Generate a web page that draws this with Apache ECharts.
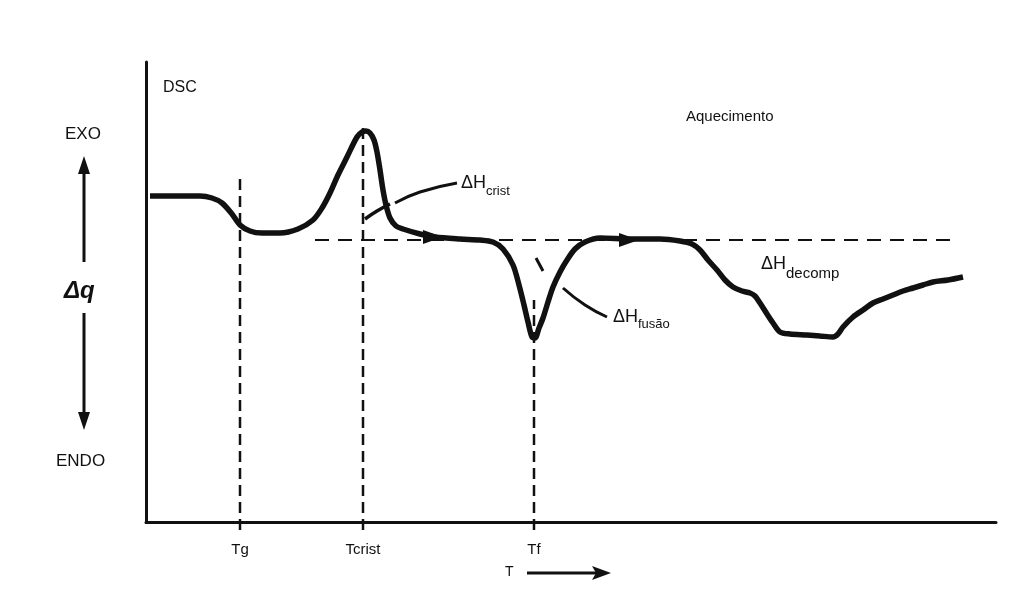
<!DOCTYPE html>
<html>
<head>
<meta charset="utf-8">
<script src="https://cdn.jsdelivr.net/npm/echarts@6/dist/echarts.min.js"></script>
<style>html,body{margin:0;padding:0;background:#fff;}#c{width:1035px;height:612px;}</style>
</head>
<body>
<div id="c"></div>
<script>
// DSC curve (T, heat flow) in arbitrary units
const curveT = [4,29,54,66,76,86,94,104,116,134,152,167,176,184,192,201,211,216,220,224,228,231,234,237,240,244,250,257,274,289,314,334,347,357,367,373,378,382,386,389,393,397,402,407,414,421,429,439,454,484,514,534,546,554,562,571,579,587,596,604,609,614,621,627,634,644,661,674,687,692,697,707,717,727,737,747,757,767,777,787,802,817];
const curveQ = [326,326,326,324,319,308,297,291,289,289,293,302,314,329,347,365,385,390,391,389,382,370,352,332,317,304,296,293,288,285,283,282,280,273,257,237,217,200,185,184,194,204,220,235,250,262,273,280,284,283,283,281,278,272,262,252,242,235,231,229,226,219,208,199,190,188,187,186,185,188,195,205,212,219,223,227,231,234,237,240,242,245];
// baseline (dashed)
const baseT = [169, 804];
const baseQ = [282, 282];
// characteristic temperatures
const tickNames = ['Tg', 'Tcrist', 'Tf'];
const tickValues = [94, 217, 388];
const vlineTop = [344, 394, 222];
const vlineBottom = -8;
// direction arrows on curve
const arrowT = [287, 483];
const arrowQ = [285, 282];
// crystallisation hook and leader lines
const hookT = [219, 231, 244];
const hookQ = [303, 311, 318];
const leadCristT = [249, 274, 311];
const leadCristQ = [319, 330, 339];
const leadFusT = [417, 439, 461];
const leadFusQ = [234, 217, 205];
const markFusT = [390, 397];
const markFusQ = [264, 251];

const zip = (a, b) => a.map((v, i) => [v, b[i]]);
const ink = '#111';
const font = 'Liberation Sans, Arial, sans-serif';
const chart = echarts.init(document.getElementById('c'));

const series = [
  {type:'line', data: zip(curveT, curveQ), smooth: 0.3, symbol:'none', lineStyle:{color:ink, width:5.5}, z:5},
  {type:'line', data: zip(baseT, baseQ), symbol:'none', lineStyle:{color:ink, width:2, type:[14,9]}, z:3},
  {type:'line', data: zip(hookT, hookQ), smooth:true, symbol:'none', lineStyle:{color:ink, width:3.5}, z:4},
  {type:'line', data: zip(leadCristT, leadCristQ), smooth:true, symbol:'none', lineStyle:{color:ink, width:3}, z:4},
  {type:'line', data: zip(leadFusT, leadFusQ), smooth:true, symbol:'none', lineStyle:{color:ink, width:3}, z:4},
  {type:'line', data: zip(markFusT, markFusQ), symbol:'none', lineStyle:{color:ink, width:3}, z:4},
  {type:'scatter', data: zip(arrowT, arrowQ), symbol:'triangle', symbolSize:[14,20], symbolRotate:-90, itemStyle:{color:ink, opacity:1}, z:8}
];
tickValues.forEach((t, i) => {
  series.push({type:'line', clip:false, data:[[t, vlineBottom],[t, vlineTop[i]]], symbol:'none', lineStyle:{color:ink, width:2.5, type:[11,6]}, z:2});
});

chart.setOption({
  animation:false,
  backgroundColor:'#fff',
  grid:{left:146, top:62, width:850, height:460, containLabel:false},
  xAxis:{type:'value', min:0, max:850,
    axisLine:{show:true, onZero:false, lineStyle:{color:ink, width:3}},
    axisTick:{show:false}, splitLine:{show:false},
    axisLabel:{show:true, customValues: tickValues, margin:20,
      formatter: v => tickNames[tickValues.indexOf(v)] || '',
      color:ink, fontSize:15, fontFamily:font}},
  yAxis:{type:'value', min:0, max:460,
    axisLine:{show:true, lineStyle:{color:ink, width:3}},
    axisTick:{show:false}, splitLine:{show:false}, axisLabel:{show:false}},
  series: series,
  graphic:[
    {type:'text', left:163, top:80, style:{text:'DSC', font:'16px ' + font, fill:ink}},
    {type:'text', left:686, top:109, style:{text:'Aquecimento', font:'15px ' + font, fill:ink}},
    {type:'text', left:65, top:126, style:{text:'EXO', font:'17px ' + font, fill:ink}},
    {type:'text', left:56, top:453, style:{text:'ENDO', font:'17px ' + font, fill:ink}},
    {type:'text', left:64, top:279, style:{text:'Δq', font:'italic bold 24px ' + font, fill:ink}},
    {type:'line', shape:{x1:84, y1:262, x2:84, y2:168}, style:{stroke:ink, lineWidth:3}},
    {type:'polygon', shape:{points:[[84,156],[78,174],[90,174]]}, style:{fill:ink}},
    {type:'line', shape:{x1:84, y1:313, x2:84, y2:416}, style:{stroke:ink, lineWidth:3}},
    {type:'polygon', shape:{points:[[84,430],[78,412],[90,412]]}, style:{fill:ink}},
    {type:'text', left:505, top:565, style:{text:'T', font:'14px ' + font, fill:ink}},
    {type:'line', shape:{x1:527, y1:573, x2:598, y2:573}, style:{stroke:ink, lineWidth:3}},
    {type:'polygon', shape:{points:[[611,573],[592,566],[596,573],[592,580]]}, style:{fill:ink}},
    {type:'text', left:461, top:174, style:{text:'ΔH', font:'18px ' + font, fill:ink}},
    {type:'text', left:486, top:185, style:{text:'crist', font:'13px ' + font, fill:ink}},
    {type:'text', left:613, top:308, style:{text:'ΔH', font:'18px ' + font, fill:ink}},
    {type:'text', left:638, top:318, style:{text:'fusão', font:'13px ' + font, fill:ink}},
    {type:'text', left:761, top:255, style:{text:'ΔH', font:'18px ' + font, fill:ink}},
    {type:'text', left:786, top:266, style:{text:'decomp', font:'15px ' + font, fill:ink}}
  ]
});
</script>
</body>
</html>
